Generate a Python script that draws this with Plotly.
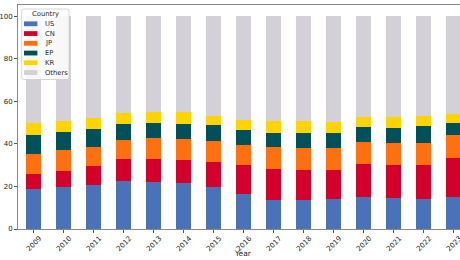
import plotly.graph_objects as go

years = [str(y) for y in range(2009, 2024)]
countries = ["US", "CN", "JP", "EP", "KR", "Others"]
colors = ["#4a72b8", "#d3002c", "#ff7010", "#00505a", "#ffd400", "#d4d0d8"]

us     = [18.8, 19.6, 20.5, 22.6, 22.3, 21.6, 19.8, 16.6, 13.8, 13.5, 14.0, 14.9, 14.6, 14.3, 14.9]
cn     = [7.1, 7.9, 9.0, 10.3, 10.6, 11.0, 11.9, 13.4, 14.4, 14.4, 13.8, 15.7, 15.5, 15.7, 18.4]
jp     = [9.4, 9.7, 9.1, 8.8, 9.8, 9.8, 9.7, 9.7, 10.2, 10.1, 10.2, 10.3, 10.2, 10.6, 10.8]
ep     = [8.8, 8.3, 8.3, 7.7, 7.3, 7.2, 7.4, 6.7, 6.9, 7.2, 7.0, 7.0, 7.4, 7.9, 5.6]
kr     = [5.9, 5.5, 5.3, 5.0, 5.2, 5.6, 4.5, 5.1, 5.7, 5.6, 5.5, 4.8, 5.0, 4.7, 4.6]
others = [50.0, 49.0, 47.8, 45.6, 44.8, 44.8, 46.7, 48.5, 49.0, 49.2, 49.5, 47.3, 47.3, 46.8, 45.7]
series = [us, cn, jp, ep, kr, others]

y_ticks = [0, 20, 40, 60, 80, 100]

W, H = 460, 260
ML, MR, MT, MB = 18, 0, 5, 31
PW, PH = W - ML - MR, H - MT - MB
FONT = "DejaVu Sans"
TXT = "#262626"

fig = go.Figure()
for name, vals, col in zip(countries, series, colors):
    fig.add_trace(go.Bar(x=years, y=vals, name=name, width=0.5,
                         marker=dict(color=col, line=dict(width=0)),
                         showlegend=False))

def px_x(p):
    return (p - ML) / PW

def px_y(p):
    return (H - MB - p) / PH

shapes = []
annotations = []

# x tick labels (rotated, centred under each bar); category axis uses serial index
for i, yr in enumerate(years):
    annotations.append(dict(x=i, xref="x", y=0, yref="paper", text=yr,
                            textangle=-45, showarrow=False, xanchor="center",
                            yanchor="middle", yshift=-14.5,
                            font=dict(family=FONT, size=7, color=TXT)))

# custom legend (matplotlib-like compact box)
bx0, bx1, by0, by1, r = 21.7, 69.0, 9.0, 79.5, 2.0
path = (f"M {px_x(bx0 + r)} {px_y(by0)} L {px_x(bx1 - r)} {px_y(by0)} "
        f"Q {px_x(bx1)} {px_y(by0)} {px_x(bx1)} {px_y(by0 + r)} "
        f"L {px_x(bx1)} {px_y(by1 - r)} Q {px_x(bx1)} {px_y(by1)} {px_x(bx1 - r)} {px_y(by1)} "
        f"L {px_x(bx0 + r)} {px_y(by1)} Q {px_x(bx0)} {px_y(by1)} {px_x(bx0)} {px_y(by1 - r)} "
        f"L {px_x(bx0)} {px_y(by0 + r)} Q {px_x(bx0)} {px_y(by0)} {px_x(bx0 + r)} {px_y(by0)} Z")
shapes.append(dict(type="path", path=path, xref="paper", yref="paper",
                   fillcolor="rgba(255,255,255,0.85)", line=dict(color="#cccccc", width=0.8),
                   layer="above"))
annotations.append(dict(x=px_x((bx0 + bx1) / 2), y=px_y(14.2), xref="paper", yref="paper",
                        text="Country", showarrow=False, xanchor="center", yanchor="middle",
                        font=dict(family=FONT, size=6.8, color=TXT)))
for i, (name, col) in enumerate(zip(countries, colors)):
    cy = 23.8 + 9.75 * i
    shapes.append(dict(type="rect", xref="paper", yref="paper",
                       x0=px_x(24.0), x1=px_x(37.4), y0=px_y(cy - 2.4), y1=px_y(cy + 2.4),
                       fillcolor=col, line=dict(width=0), layer="above"))
    annotations.append(dict(x=px_x(42.5), y=px_y(cy), xref="paper", yref="paper",
                            text=name, showarrow=False, xanchor="left", yanchor="middle",
                            font=dict(family=FONT, size=6.8, color=TXT)))

# axis title
annotations.append(dict(x=px_x(243), y=px_y(253), xref="paper", yref="paper",
                        text="Year", showarrow=False, xanchor="center", yanchor="middle",
                        font=dict(family=FONT, size=7.5, color=TXT)))

fig.update_layout(
    width=W, height=H, barmode="stack",
    margin=dict(l=ML, r=MR, t=MT, b=MB, pad=0),
    paper_bgcolor="white", plot_bgcolor="white",
    font=dict(family=FONT, size=7, color=TXT),
    shapes=shapes, annotations=annotations,
    xaxis=dict(type="category", range=[-0.53, -0.53 + PW / 30.0],
               showgrid=False, zeroline=False, showticklabels=False,
               ticks="outside", ticklen=3, tickwidth=0.8, tickcolor="#555",
               showline=True, linecolor="#8a8a8a", linewidth=1, mirror=True),
    yaxis=dict(range=[0, 105.4], tickvals=y_ticks, showgrid=False, zeroline=False,
               ticks="outside", ticklen=3, tickwidth=0.8, tickcolor="#555",
               tickfont=dict(family=FONT, size=7, color=TXT),
               showline=True, linecolor="#8a8a8a", linewidth=1, mirror=False),
)

fig.write_html("out.html")
